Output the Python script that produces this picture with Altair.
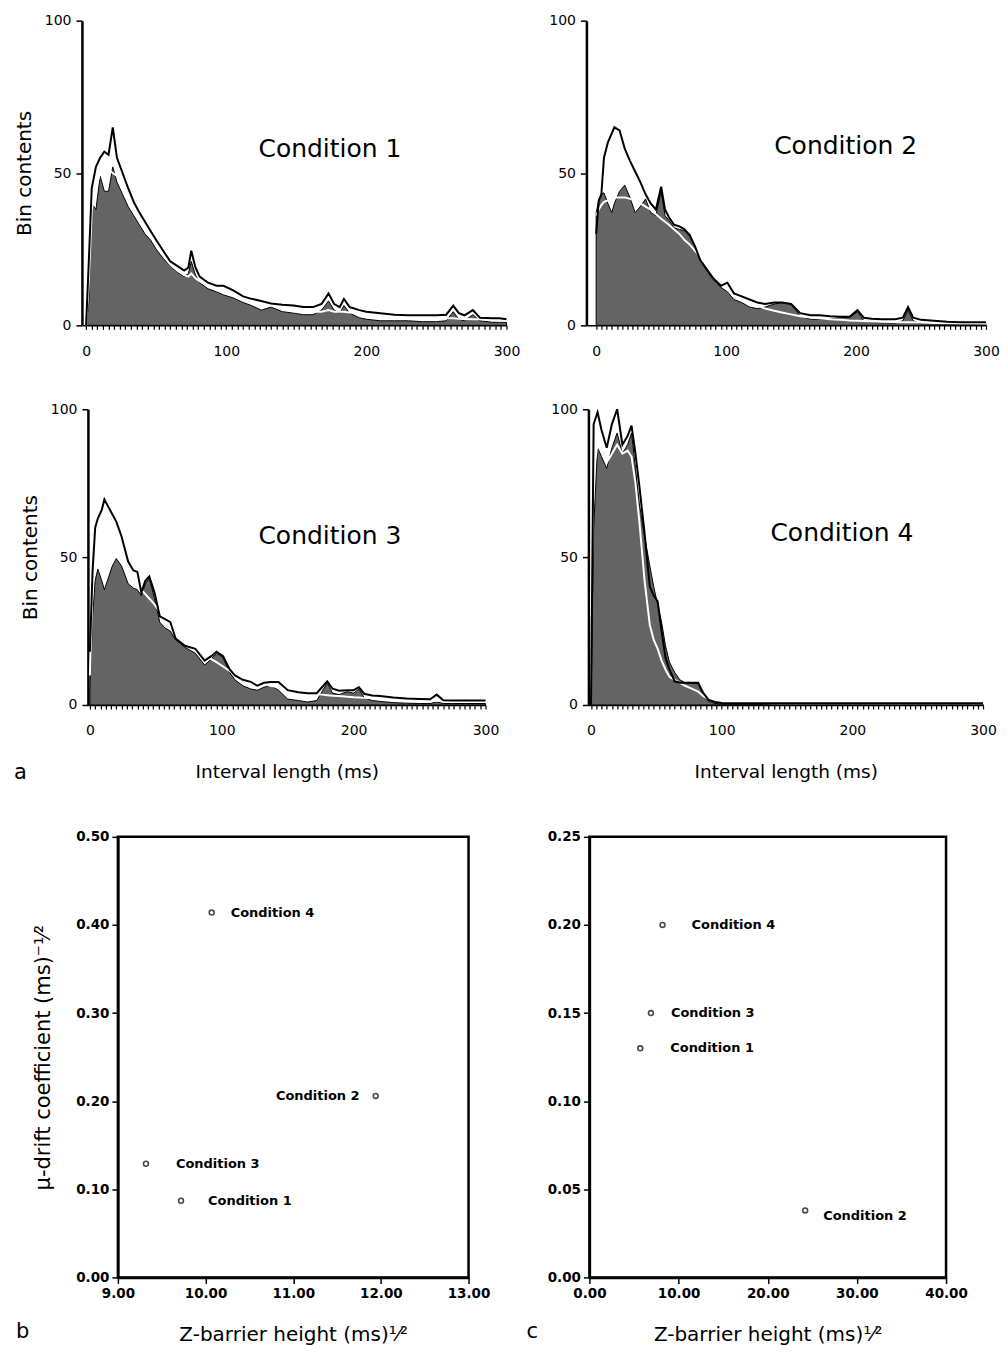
import altair as alt
import pandas as pd

FONT = "DejaVu Sans"
FILL = "#646464"

# ---------------- histogram data (interval length in ms, bin contents) ----------------
x1 = [0, 2, 4, 7, 10, 13, 16, 19, 22, 26, 30, 34, 38, 42, 46, 50, 55, 60, 65, 70,
      73, 75, 78, 81, 87, 93, 98, 105, 112, 118, 125, 132, 140, 148, 155, 162, 168, 173, 177, 181,
      184, 188, 195, 200, 210, 220, 230, 240, 250, 257, 262, 266, 270, 276, 281, 290, 295, 300]
upper1 = [0, 22, 45, 52, 55, 57, 56, 65, 55, 50, 45, 40.5, 37, 34, 31, 28, 24.5, 21, 19.5, 18,
          19, 24.5, 19, 16, 14, 13, 13, 11.5, 9.5, 8.7, 8, 7.2, 6.8, 6.5, 6, 6, 7, 10.5, 7, 6,
          8.7, 6, 5, 4.5, 4, 3.5, 3.3, 3.3, 3.3, 3.5, 6.5, 4, 3.3, 5, 2.5, 2.3, 2.3, 2]
white1 = [0, 15, 38, 45, 50, 52, 51, 50, 49, 46, 42.5, 38.5, 35, 32, 29.5, 26.5, 23, 20, 18, 16.5,
          16, 17, 15.5, 14.5, 13, 12, 11.5, 10, 8.5, 7.5, 6.5, 6.5, 5.5, 5, 5, 4.5, 4.5, 5, 4.5, 4.5,
          4.5, 4.2, 4, 3.5, 3, 2.8, 2.5, 2.5, 2.3, 2.3, 2.3, 2.2, 2.1, 2, 2, 1.8, 1.6, 1.5]
fill1 = [0, 8, 40, 38, 49, 44, 44, 52, 47, 43, 39, 36, 33, 30, 28, 25, 22, 19.5, 17.5, 16,
         17, 21, 16.5, 14, 12, 11, 10, 9, 7.5, 6.5, 5, 6, 4.5, 4, 3.5, 3.5, 5, 8, 5, 4,
         6.5, 4, 2.5, 2, 1.5, 1.5, 1.5, 1.2, 1.2, 1.5, 4.5, 2, 1.5, 3.5, 1.5, 1, 1, 1]

x2 = [0, 2, 4, 6, 9, 12, 14, 18, 22, 26, 30, 34, 38, 42, 46, 50, 53, 56, 60, 64,
      68, 72, 76, 80, 85, 90, 96, 101, 106, 112, 118, 124, 130, 137, 143, 150, 157, 165, 172, 180,
      188, 195, 201, 206, 212, 220, 230, 236, 240, 244, 250, 260, 270, 280, 290, 300]
upper2 = [30, 41, 43, 55, 60, 63, 65, 64, 58, 54, 50.5, 47, 43, 40, 38, 45.5, 38, 35.5, 33, 32.5,
          31.5, 29.5, 26, 21.5, 18.5, 15.5, 13, 14, 10.5, 9.5, 8.5, 7.5, 7, 7.5, 7.5, 7, 4, 3.3, 3.3, 3,
          2.8, 2.8, 5, 2.5, 2.2, 2, 2, 2.5, 6, 2.5, 1.8, 1.5, 1.2, 1, 1, 1]
white2 = [36, 38, 39.5, 40.5, 41, 41.5, 42, 42, 42, 41.5, 41, 40, 39, 38, 36.5, 35, 34, 33, 31.5, 30,
          28, 26.5, 24.5, 22.5, 20, 17.5, 14.5, 12.5, 10.5, 9, 7.5, 6.5, 5.5, 4.8, 4.2, 3.6, 3, 2.6, 2.3, 2,
          1.8, 1.6, 1.5, 1.4, 1.3, 1.2, 1.1, 1, 1, 1, 0.9, 0.8, 0.8, 0.7, 0.7, 0.6]
fill2 = [37, 41, 43, 43.5, 40, 37, 40, 44, 46, 42, 37, 39, 41.5, 37, 36, 44, 36, 34.5, 32, 31.5,
         31, 30, 26, 21.5, 18, 15, 12.5, 11, 8.5, 7.5, 6, 5.5, 6, 7, 7.5, 7, 3, 2, 2, 2,
         2.6, 2.5, 4.5, 1.5, 1, 0.8, 0.8, 1.5, 5, 1.5, 0.5, 0.5, 0.5, 0.5, 0.5, 0.5]

x3 = [0, 2, 4, 6, 9, 11, 14, 17, 20, 24, 29, 33, 36, 39, 42, 45, 49, 53, 57, 61,
      65, 72, 80, 87, 92, 96, 101, 106, 110, 116, 122, 127, 132, 137, 143, 150, 158, 165, 172, 176,
      180, 184, 189, 195, 200, 204, 208, 214, 220, 230, 240, 250, 258, 263, 268, 275, 285, 300]
upper3 = [18, 45, 60, 63, 66, 69.5, 67, 64.5, 62, 57, 48.5, 45.5, 45, 38, 42, 43.5, 38, 30, 29, 28,
          22.5, 20, 19, 15, 16.5, 18, 16.5, 12, 10, 8.5, 7.8, 6.5, 7.5, 7.8, 7.8, 5, 4.3, 4, 4, 6,
          8, 5.5, 4.8, 5, 5, 6, 3.8, 3.2, 3, 2.5, 2.2, 2, 1.9, 3.5, 1.6, 1.5, 1.5, 1.5]
white3 = [10, 40, 52, 55, 50, 48, 49, 52, 55, 53, 47, 43.5, 41, 39, 37.5, 36, 34, 31.5, 29.5, 27,
          25.5, 22.5, 19.5, 17, 15.5, 14.5, 13, 11.5, 10.5, 9.5, 8.5, 7.5, 7, 6.5, 6, 5.2, 4.6, 4, 3.6, 3.5,
          3.3, 3.1, 3, 2.8, 2.6, 2.5, 2.4, 2.3, 2.1, 1.9, 1.7, 1.5, 1.4, 1.4, 1.3, 1.2, 1.1, 1]
fill3 = [5, 30, 42, 46, 42, 39, 43, 47, 49.5, 47, 41, 39.5, 39, 37, 41, 43, 36, 28, 26, 25,
         22, 19.5, 17.5, 13.5, 15.5, 17.5, 16, 11, 8.5, 6.5, 5.4, 5, 6, 6.6, 5, 2, 1.5, 1, 1.5, 4.5,
         7.5, 4, 3.5, 4.5, 4, 5.4, 2.5, 1.5, 1.2, 0.8, 0.6, 0.5, 0.5, 1, 0.5, 0.5, 0.5, 0.5]

x4 = [0, 2, 5, 8, 12, 16, 20, 24, 28, 31, 34, 37, 41, 45, 48, 51, 54, 57, 60, 64,
      68, 72, 77, 82, 86, 90, 95, 100, 110, 120, 140, 160, 180, 200, 220, 240, 260, 280, 300]
upper4 = [0, 95, 99, 93, 87, 95, 100, 88, 91, 94.5, 85, 74, 58, 40, 37, 35, 25, 16, 12, 8,
          7.5, 7.5, 7.5, 7.5, 4, 1.7, 1, 0.7, 0.6, 0.6, 0.6, 0.6, 0.6, 0.6, 0.6, 0.6, 0.6, 0.6, 0.6]
white4 = [30, 80, 88, 86, 82, 85, 88, 85, 86, 84, 75, 62, 42, 27, 22, 19, 15, 12, 9.5, 8.5,
          7.5, 6.5, 5.5, 4.5, 3, 2, 1.5, 1, 0.8, 0.7, 0.6, 0.6, 0.6, 0.6, 0.6, 0.6, 0.6, 0.6, 0.6]
fill4 = [0, 60, 87, 84, 80, 87, 92, 85, 88, 92, 80, 68, 57, 47, 40, 34, 28, 20, 14.5, 11,
         8.5, 7.5, 7.3, 7.2, 3, 1.2, 0.5, 0.3, 0.3, 0.3, 0.3, 0.3, 0.3, 0.3, 0.3, 0.3, 0.3, 0.3, 0.3]

cond_names = ["Condition 1", "Condition 2", "Condition 3", "Condition 4"]
label_ms = [174, 192, 182, 192]
label_val = [58, 59, 57, 58]

hist_yticks = [0, 50, 100]
hist_xhash = list(range(0, 301, 4))

# ---------------- scatter data (order: Condition 1..4) ----------------
b_z = [9.72, 11.94, 9.32, 10.07]
b_mu = [0.087, 0.206, 0.129, 0.414]
c_z = [5.7, 24.2, 6.9, 8.2]
c_mu = [0.13, 0.038, 0.15, 0.20]

b_xticks = [9, 10, 11, 12, 13]
b_yticks = [0.0, 0.1, 0.2, 0.3, 0.4, 0.5]
c_xticks = [0, 10, 20, 30, 40]
c_yticks = [0.0, 0.05, 0.10, 0.15, 0.20, 0.25]


def hist_panel(xs, upper, white, fill, idx, width, height, xmin,
               ytitle=None, xtitle=None, letter=None, letter_x=0, letter_y=0):
    rows = []
    for s, vals in (("fill", fill), ("white", white), ("upper", upper)):
        for m, v in zip(xs, vals):
            rows.append({"ms": m, "val": v, "series": s})
    df = pd.DataFrame(rows)
    xax = alt.Axis(values=hist_xhash, labelExpr="datum.value % 100 === 0 ? datum.label : ''",
                   grid=False, labelOverlap=False, labelFlush=False, tickSize=4, tickWidth=1.2,
                   domainWidth=1.5, labelFontSize=14, labelPadding=15,
                   title=xtitle, titleFontSize=18.5, titleFontWeight="normal", titlePadding=25)
    yax = alt.Axis(values=hist_yticks, grid=False, tickSize=6, tickWidth=1.5, domainWidth=2.5,
                   labelFontSize=14, labelPadding=5, labelFlush=False,
                   title=ytitle, titleFontSize=20, titleFontWeight="normal", titlePadding=10)
    X = alt.X("ms:Q", scale=alt.Scale(domain=[xmin, 300], nice=False, zero=False), axis=xax)
    Y = alt.Y("val:Q", scale=alt.Scale(domain=[0, 100], nice=False), axis=yax)
    base = alt.Chart(df).encode(x=X, y=Y)
    area = base.transform_filter(alt.datum.series == "fill").mark_area(
        color=FILL, stroke="black", strokeWidth=1, interpolate="linear")
    wline = base.transform_filter(alt.datum.series == "white").mark_line(
        color="white", strokeWidth=2)
    bline = base.transform_filter(alt.datum.series == "upper").mark_line(
        color="black", strokeWidth=2)
    lab_df = pd.DataFrame({"ms": [label_ms[idx]], "val": [label_val[idx]], "t": [cond_names[idx]]})
    label = alt.Chart(lab_df).mark_text(fontSize=25, font=FONT, color="black").encode(
        x=X, y=Y, text="t:N")
    layers = [area, wline, bline, label]
    if letter:
        ldf = pd.DataFrame({"t": [letter]})
        layers.append(alt.Chart(ldf).mark_text(align="left", baseline="middle", fontSize=21,
                                               font=FONT, color="black").encode(
            x=alt.value(letter_x), y=alt.value(letter_y), text="t:N"))
    return alt.layer(*layers).properties(width=width, height=height)


def scatter_panel(zs, mus, xdom, xvals, ydom, yvals, width, height, specs,
                  ytitle=None, xtitle=None, letter=None, letter_x=0, letter_y=0):
    df = pd.DataFrame({"z": zs, "mu": mus, "name": cond_names})
    xax = alt.Axis(values=xvals, format=".2f", grid=False, labelFontSize=13.5, labelFontWeight="bold",
                   labelFlush=False, labelOverlap=False, tickSize=6, tickWidth=1.5,
                   domainWidth=2.5, labelPadding=3, title=xtitle, titleFontSize=20,
                   titleFontWeight="normal", titlePadding=25)
    yax = alt.Axis(values=yvals, format=".2f", grid=False, labelFontSize=13.5, labelFontWeight="bold",
                   labelFlush=False, labelOverlap=False, tickSize=6, tickWidth=1.5,
                   domainWidth=2.5, labelPadding=3, title=ytitle, titleFontSize=21,
                   titleFontWeight="normal", titlePadding=22)
    X = alt.X("z:Q", scale=alt.Scale(domain=xdom, nice=False, zero=False), axis=xax)
    Y = alt.Y("mu:Q", scale=alt.Scale(domain=ydom, nice=False, zero=False), axis=yax)
    pts = alt.Chart(df).mark_point(shape="circle", filled=False, size=24, color="black",
                                   strokeWidth=1.6).encode(x=X, y=Y)
    layers = [pts]
    for i, (al, dx, dy) in enumerate(specs):
        layers.append(alt.Chart(df.iloc[[i]]).mark_text(
            align=al, dx=dx, dy=dy, baseline="middle", fontSize=13, fontWeight="bold",
            font=FONT, color="black").encode(x=X, y=Y, text="name:N"))
    if letter:
        ldf = pd.DataFrame({"t": [letter]})
        layers.append(alt.Chart(ldf).mark_text(align="left", baseline="middle", fontSize=21,
                                               font=FONT, color="black").encode(
            x=alt.value(letter_x), y=alt.value(letter_y), text="t:N"))
    return alt.layer(*layers).properties(
        width=width, height=height,
        view=alt.ViewBackground(stroke="black", strokeWidth=2.5))


def spacer():
    return alt.Chart(pd.DataFrame({"s": [0]})).mark_rect(opacity=0).encode(
        x=alt.value(0), x2=alt.value(1), y=alt.value(0), y2=alt.value(1)
    ).properties(width=1, height=1)


p1 = hist_panel(x1, upper1, white1, fill1, 0, 425, 305, -3, ytitle="Bin contents")
p2 = hist_panel(x2, upper2, white2, fill2, 1, 400, 305, -7.5)
p3 = hist_panel(x3, upper3, white3, fill3, 2, 398, 296, -1.5, ytitle="Bin contents",
                xtitle="Interval length (ms)", letter="a", letter_x=-74, letter_y=364)
p4 = hist_panel(x4, upper4, white4, fill4, 3, 395, 296, -2, xtitle="Interval length (ms)")

b_specs = [("left", 27, 0), ("right", -16, 0), ("left", 30, 0), ("left", 19, 0)]
c_specs = [("left", 30, 0), ("left", 18, 6), ("left", 20, 0), ("left", 29, 0)]

pb = scatter_panel(b_z, b_mu, [9, 13], b_xticks, [0, 0.5], b_yticks, 351, 441, b_specs,
                   ytitle="µ-drift coefficient (ms)⁻¹⁄²", xtitle="Z-barrier height (ms)¹⁄²",
                   letter="b", letter_x=-102, letter_y=496)
pc = scatter_panel(c_z, c_mu, [0, 40], c_xticks, [0, 0.25], c_yticks, 357, 441, c_specs,
                   xtitle="Z-barrier height (ms)¹⁄²", letter="c", letter_x=-63, letter_y=496)

row1 = alt.hconcat(spacer(), alt.hconcat(p1, p2, spacing=28), spacing=0)
row2 = alt.hconcat(spacer(), alt.hconcat(p3, p4, spacing=51), spacing=0)
row3 = alt.hconcat(spacer(), alt.hconcat(pb, pc, spacing=33), spacing=0)
top = alt.concat(row1, row2, columns=1, align="none", spacing=44)

chart = alt.concat(top, row3, columns=1, align="none", spacing=45).properties(
    padding={"left": 5, "top": 5, "right": 0, "bottom": 0}
).configure_view(stroke=None).configure_axis(
    grid=False, labelFont=FONT, titleFont=FONT, domainColor="black", tickColor="black",
    labelColor="black", titleColor="black"
)

chart.save("out.html", embed_options={"renderer": "svg", "actions": False})
